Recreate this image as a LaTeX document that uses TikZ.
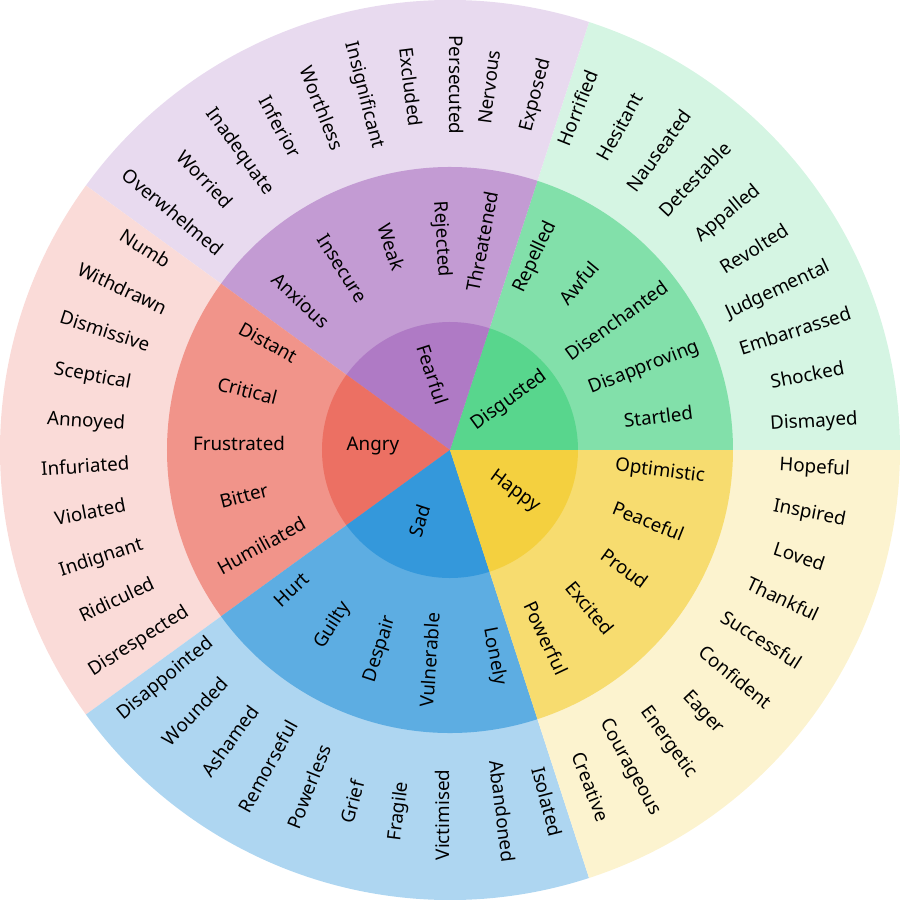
\documentclass[tikz,border=0pt]{standalone}
\usepackage{fontspec}
\setmainfont{Noto Sans}
\usepackage{tikz}

\definecolor{disgin}{HTML}{58D68D}
\definecolor{disgmid}{HTML}{82E0AA}
\definecolor{disgout}{HTML}{D5F5E3}
\definecolor{fearin}{HTML}{AF7AC5}
\definecolor{fearmid}{HTML}{C39BD3}
\definecolor{fearout}{HTML}{E8DAEF}
\definecolor{angrin}{HTML}{EC7063}
\definecolor{angrmid}{HTML}{F1948A}
\definecolor{angrout}{HTML}{FADBD8}
\definecolor{sadin}{HTML}{3498DB}
\definecolor{sadmid}{HTML}{5DADE2}
\definecolor{sadout}{HTML}{AED6F1}
\definecolor{hapin}{HTML}{F4D03F}
\definecolor{hapmid}{HTML}{F7DC6F}
\definecolor{hapout}{HTML}{FCF3CF}

\begin{document}
\begin{tikzpicture}[every node/.style={font=\fontsize{10.7}{12}\selectfont, anchor=base, inner sep=0pt}]
\useasboundingbox (-9, -9) rectangle (9, 9);
% outer ring
\fill[disgout] (0, 0) -- (0:9) arc (0:72:9) -- cycle;
\fill[fearout] (0, 0) -- (72:9) arc (72:144:9) -- cycle;
\fill[angrout] (0, 0) -- (144:9) arc (144:216:9) -- cycle;
\fill[sadout] (0, 0) -- (216:9) arc (216:288:9) -- cycle;
\fill[hapout] (0, 0) -- (288:9) arc (288:360:9) -- cycle;
% middle ring
\fill[disgmid] (0, 0) -- (0:5.66) arc (0:72:5.66) -- cycle;
\fill[fearmid] (0, 0) -- (72:5.66) arc (72:144:5.66) -- cycle;
\fill[angrmid] (0, 0) -- (144:5.66) arc (144:216:5.66) -- cycle;
\fill[sadmid] (0, 0) -- (216:5.66) arc (216:288:5.66) -- cycle;
\fill[hapmid] (0, 0) -- (288:5.66) arc (288:360:5.66) -- cycle;
% inner circle
\fill[disgin] (0, 0) -- (0:2.56) arc (0:72:2.56) -- cycle;
\fill[fearin] (0, 0) -- (72:2.56) arc (72:144:2.56) -- cycle;
\fill[angrin] (0, 0) -- (144:2.56) arc (144:216:2.56) -- cycle;
\fill[sadin] (0, 0) -- (216:2.56) arc (216:288:2.56) -- cycle;
\fill[hapin] (0, 0) -- (288:2.56) arc (288:360:2.56) -- cycle;
% core emotions
\node[rotate=36] (disgusted) at (36:1.54) {Disgusted};
\node[rotate=-72] (fearful) at (108:1.54) {Fearful};
\node[rotate=0] (angry) at (180:1.54) {Angry};
\node[rotate=72] (sad) at (252:1.54) {Sad};
\node[rotate=-36] (happy) at (-36:1.54) {Happy};
% disgusted
\node[rotate=7.2] (startled) at (7.2:4.22) {Startled};
\node[rotate=21.6] (disapproving) at (21.6:4.22) {Disapproving};
\node[rotate=36] (disenchanted) at (36:4.22) {Disenchanted};
\node[rotate=50.4] (awful) at (50.4:4.22) {Awful};
\node[rotate=64.8] (repelled) at (64.8:4.22) {Repelled};
\node[rotate=3.6] (dismayed) at (3.6:7.3) {Dismayed};
\node[rotate=10.8] (shocked) at (10.8:7.3) {Shocked};
\node[rotate=18] (embarrassed) at (18:7.3) {Embarrassed};
\node[rotate=25.2] (judgemental) at (25.2:7.3) {Judgemental};
\node[rotate=32.4] (revolted) at (32.4:7.3) {Revolted};
\node[rotate=39.6] (appalled) at (39.6:7.3) {Appalled};
\node[rotate=46.8] (detestable) at (46.8:7.3) {Detestable};
\node[rotate=54] (nauseated) at (54:7.3) {Nauseated};
\node[rotate=61.2] (hesitant) at (61.2:7.3) {Hesitant};
\node[rotate=68.4] (horrified) at (68.4:7.3) {Horrified};
% fearful
\node[rotate=79.2] (threatened) at (79.2:4.22) {Threatened};
\node[rotate=-86.4] (rejected) at (93.6:4.22) {Rejected};
\node[rotate=-72] (weak) at (108:4.22) {Weak};
\node[rotate=-57.6] (insecure) at (122.4:4.22) {Insecure};
\node[rotate=-43.2] (anxious) at (136.8:4.22) {Anxious};
\node[rotate=75.6] (exposed) at (75.6:7.3) {Exposed};
\node[rotate=82.8] (nervous) at (82.8:7.3) {Nervous};
\node[rotate=-90] (persecuted) at (90:7.3) {Persecuted};
\node[rotate=-82.8] (excluded) at (97.2:7.3) {Excluded};
\node[rotate=-75.6] (insignificant) at (104.4:7.3) {Insignificant};
\node[rotate=-68.4] (worthless) at (111.6:7.3) {Worthless};
\node[rotate=-61.2] (inferior) at (118.8:7.3) {Inferior};
\node[rotate=-54] (inadequate) at (126:7.3) {Inadequate};
\node[rotate=-46.8] (worried) at (133.2:7.3) {Worried};
\node[rotate=-39.6] (overwhelmed) at (140.4:7.3) {Overwhelmed};
% angry
\node[rotate=-28.8] (distant) at (151.2:4.22) {Distant};
\node[rotate=-14.4] (critical) at (165.6:4.22) {Critical};
\node[rotate=0] (frustrated) at (180:4.22) {Frustrated};
\node[rotate=14.4] (bitter) at (194.4:4.22) {Bitter};
\node[rotate=28.8] (humiliated) at (208.8:4.22) {Humiliated};
\node[rotate=-32.4] (numb) at (147.6:7.3) {Numb};
\node[rotate=-25.2] (withdrawn) at (154.8:7.3) {Withdrawn};
\node[rotate=-18] (dismissive) at (162:7.3) {Dismissive};
\node[rotate=-10.8] (sceptical) at (169.2:7.3) {Sceptical};
\node[rotate=-3.6] (annoyed) at (176.4:7.3) {Annoyed};
\node[rotate=3.6] (infuriated) at (183.6:7.3) {Infuriated};
\node[rotate=10.8] (violated) at (190.8:7.3) {Violated};
\node[rotate=18] (indignant) at (198:7.3) {Indignant};
\node[rotate=25.2] (ridiculed) at (205.2:7.3) {Ridiculed};
\node[rotate=32.4] (disrespected) at (212.4:7.3) {Disrespected};
% sad
\node[rotate=43.2] (hurt) at (223.2:4.22) {Hurt};
\node[rotate=57.6] (guilty) at (237.6:4.22) {Guilty};
\node[rotate=72] (despair) at (252:4.22) {Despair};
\node[rotate=86.4] (vulnerable) at (266.4:4.22) {Vulnerable};
\node[rotate=-79.2] (lonely) at (-79.2:4.22) {Lonely};
\node[rotate=39.6] (disappointed) at (219.6:7.3) {Disappointed};
\node[rotate=46.8] (wounded) at (226.8:7.3) {Wounded};
\node[rotate=54] (ashamed) at (234:7.3) {Ashamed};
\node[rotate=61.2] (remorseful) at (241.2:7.3) {Remorseful};
\node[rotate=68.4] (powerless) at (248.4:7.3) {Powerless};
\node[rotate=75.6] (grief) at (255.6:7.3) {Grief};
\node[rotate=82.8] (fragile) at (262.8:7.3) {Fragile};
\node[rotate=90] (victimised) at (270:7.3) {Victimised};
\node[rotate=-82.8] (abandoned) at (-82.8:7.3) {Abandoned};
\node[rotate=-75.6] (isolated) at (-75.6:7.3) {Isolated};
% happy
\node[rotate=-64.8] (powerful) at (-64.8:4.22) {Powerful};
\node[rotate=-50.4] (excited) at (-50.4:4.22) {Excited};
\node[rotate=-36] (proud) at (-36:4.22) {Proud};
\node[rotate=-21.6] (peaceful) at (-21.6:4.22) {Peaceful};
\node[rotate=-7.2] (optimistic) at (-7.2:4.22) {Optimistic};
\node[rotate=-68.4] (creative) at (-68.4:7.3) {Creative};
\node[rotate=-61.2] (courageous) at (-61.2:7.3) {Courageous};
\node[rotate=-54] (energetic) at (-54:7.3) {Energetic};
\node[rotate=-46.8] (eager) at (-46.8:7.3) {Eager};
\node[rotate=-39.6] (confident) at (-39.6:7.3) {Confident};
\node[rotate=-32.4] (successful) at (-32.4:7.3) {Successful};
\node[rotate=-25.2] (thankful) at (-25.2:7.3) {Thankful};
\node[rotate=-18] (loved) at (-18:7.3) {Loved};
\node[rotate=-10.8] (inspired) at (-10.8:7.3) {Inspired};
\node[rotate=-3.6] (hopeful) at (-3.6:7.3) {Hopeful};
\end{tikzpicture}
\end{document}
